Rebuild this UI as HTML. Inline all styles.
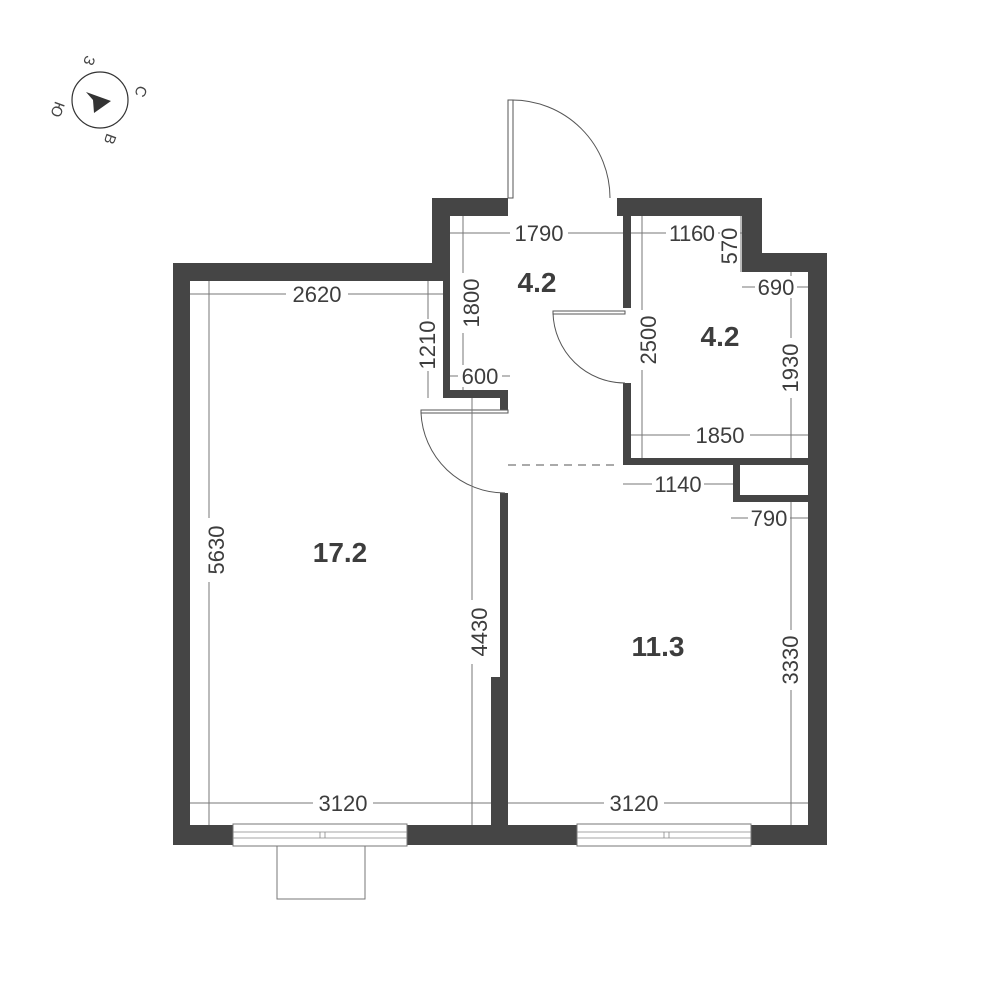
<!DOCTYPE html>
<html><head><meta charset="utf-8"><style>
html,body{margin:0;padding:0;background:#fff;}
svg{display:block;}
text{font-family:"Liberation Sans",sans-serif;}
.d{font-size:22px;fill:#3d3d3d;}
.a{font-size:28px;font-weight:bold;fill:#3d3d3d;}
</style></head><body>
<svg width="1000" height="1000" viewBox="0 0 1000 1000" xmlns="http://www.w3.org/2000/svg">
<circle cx="100" cy="100" r="28" fill="none" stroke="#333" stroke-width="1.2"/>
<polygon points="111,101 86,92 93,100 94,113" fill="#333"/>
<text x="84" y="66" font-size="15" fill="#444" transform="rotate(110 89 61)">З</text>
<text x="136" y="96" font-size="15" fill="#444" transform="rotate(110 141 91)">С</text>
<text x="105" y="144" font-size="15" fill="#444" transform="rotate(110 110 139)">В</text>
<text x="52" y="113" font-size="15" fill="#444" transform="rotate(110 58 108)">Ю</text>

<g fill="#454545">
<rect x="173" y="263" width="277" height="18"/>
<rect x="173" y="263" width="17" height="582"/>
<rect x="173" y="825" width="654" height="20"/>
<rect x="432" y="198" width="18" height="83"/>
<rect x="443" y="263" width="7" height="135"/>
<rect x="432" y="198" width="76" height="18"/>
<rect x="443" y="390" width="65" height="8"/>
<rect x="500" y="390" width="8" height="20"/>
<rect x="617" y="198" width="145" height="18"/>
<rect x="742" y="198" width="20" height="74"/>
<rect x="742" y="253" width="85" height="19"/>
<rect x="808" y="253" width="19" height="592"/>
<rect x="623" y="198" width="8" height="110"/>
<rect x="623" y="383" width="8" height="82"/>
<rect x="623" y="458" width="185" height="7"/>
<rect x="733" y="458" width="7" height="44"/>
<rect x="733" y="495" width="75" height="7"/>
<rect x="500" y="493" width="8" height="332"/>
<rect x="491" y="677" width="17" height="148"/>
</g>
<g fill="#fff" stroke="#777" stroke-width="1">
<rect x="233" y="824" width="174" height="22"/>
<rect x="577" y="824" width="174" height="22"/>
<rect x="277" y="846" width="88" height="53"/>
</g>
<g stroke="#888" stroke-width="0.8" fill="none">
<line x1="233" y1="832" x2="407" y2="832"/><line x1="233" y1="838" x2="407" y2="838"/>
<line x1="577" y1="832" x2="751" y2="832"/><line x1="577" y1="838" x2="751" y2="838"/>
<line x1="320" y1="832" x2="320" y2="838"/><line x1="325" y1="832" x2="325" y2="838"/>
<line x1="664" y1="832" x2="664" y2="838"/><line x1="669" y1="832" x2="669" y2="838"/>
</g>
<g stroke="#555" stroke-width="1" fill="none">
<rect x="508" y="100" width="5" height="98"/>
<path d="M512 100 A98 98 0 0 1 610 198"/>
<rect x="553" y="311" width="72" height="3" />
<path d="M553 313 A72 72 0 0 0 625 383"/>
<rect x="421" y="410" width="87" height="3"/>
<path d="M421 413 A84 84 0 0 0 505 493"/>
<line x1="508" y1="465" x2="617" y2="465" stroke-dasharray="8,6"/>
</g>
<g stroke="#777" stroke-width="1" fill="none">
<line x1="190" y1="294" x2="443" y2="294"/>
<line x1="209" y1="281" x2="209" y2="825"/>
<line x1="428" y1="281" x2="428" y2="398"/>
<line x1="450" y1="233" x2="623" y2="233"/>
<line x1="463" y1="216" x2="463" y2="390"/>
<line x1="450" y1="376" x2="510" y2="376"/>
<line x1="472" y1="398" x2="472" y2="825"/>
<line x1="190" y1="803" x2="491" y2="803"/>
<line x1="508" y1="803" x2="808" y2="803"/>
<line x1="631" y1="233" x2="742" y2="233"/>
<line x1="741" y1="216" x2="741" y2="272"/>
<line x1="742" y1="287" x2="808" y2="287"/>
<line x1="642" y1="216" x2="642" y2="458"/>
<line x1="631" y1="435" x2="808" y2="435"/>
<line x1="791" y1="272" x2="791" y2="458"/>
<line x1="623" y1="484" x2="733" y2="484"/>
<line x1="731" y1="518" x2="808" y2="518"/>
<line x1="791" y1="502" x2="791" y2="825"/>
</g>
<g class="d" text-anchor="middle">
<rect x="286" y="283" width="62" height="22" fill="#fff"/><text x="317" y="302">2620</text>
<rect x="510" y="222" width="58" height="22" fill="#fff"/><text x="539" y="241">1790</text>
<rect x="666" y="222" width="52" height="22" fill="#fff"/><text x="692" y="241" textLength="46">1160</text>
<rect x="720" y="216" width="20" height="54" fill="#fff"/>
<rect x="755" y="276" width="42" height="22" fill="#fff"/><text x="776" y="295">690</text>
<rect x="458" y="365" width="44" height="22" fill="#fff"/><text x="480" y="384">600</text>
<rect x="690" y="424" width="60" height="22" fill="#fff"/><text x="720" y="443">1850</text>
<rect x="652" y="473" width="52" height="22" fill="#fff"/><text x="678" y="492">1140</text>
<rect x="748" y="507" width="42" height="22" fill="#fff"/><text x="769" y="526">790</text>
<rect x="313" y="792" width="60" height="22" fill="#fff"/><text x="343" y="811">3120</text>
<rect x="604" y="792" width="60" height="22" fill="#fff"/><text x="634" y="811">3120</text>
<g transform="translate(216,550) rotate(-90)"><rect x="-32" y="-11" width="64" height="22" fill="#fff"/><text x="0" y="8">5630</text></g>
<g transform="translate(479,632) rotate(-90)"><rect x="-32" y="-11" width="64" height="22" fill="#fff"/><text x="0" y="8">4430</text></g>
<g transform="translate(471,303) rotate(-90)"><rect x="-30" y="-11" width="60" height="22" fill="#fff"/><text x="0" y="8">1800</text></g>
<g transform="translate(427,345) rotate(-90)"><rect x="-26" y="-11" width="52" height="22" fill="#fff"/><text x="0" y="8">1210</text></g>
<g transform="translate(648,340) rotate(-90)"><rect x="-30" y="-11" width="60" height="22" fill="#fff"/><text x="0" y="8">2500</text></g>
<g transform="translate(729,246) rotate(-90)"><text x="0" y="8">570</text></g>
<g transform="translate(790,368) rotate(-90)"><rect x="-30" y="-11" width="60" height="22" fill="#fff"/><text x="0" y="8">1930</text></g>
<g transform="translate(790,660) rotate(-90)"><rect x="-30" y="-11" width="60" height="22" fill="#fff"/><text x="0" y="8">3330</text></g>
</g>
<g class="a" text-anchor="middle">
<text x="537" y="292">4.2</text>
<text x="720" y="346">4.2</text>
<text x="340" y="562">17.2</text>
<text x="658" y="656">11.3</text>
</g>
</svg>
</body></html>
